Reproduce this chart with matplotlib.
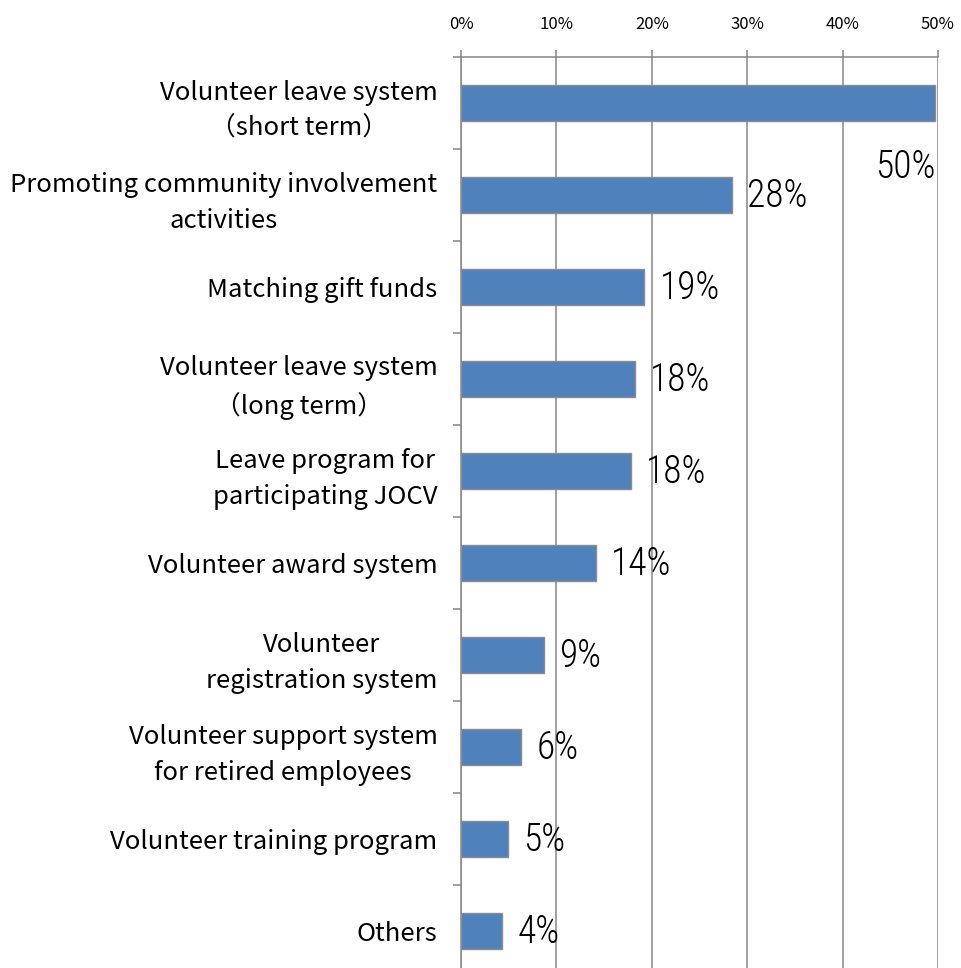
import matplotlib
matplotlib.use("Agg")
import matplotlib.pyplot as plt

# Company volunteer-support programmes (share of respondents, %)
categories = [
    "Volunteer leave system\n（short term）",
    "Promoting community involvement\nactivities",
    "Matching gift funds",
    "Volunteer leave system\n（long term）",
    "Leave program for\nparticipating JOCV",
    "Volunteer award system",
    "Volunteer\nregistration system",
    "Volunteer support system\nfor retired employees",
    "Volunteer training program",
    "Others",
]
shares = [49.7, 28.4, 19.2, 18.2, 17.8, 14.1, 8.7, 6.3, 4.9, 4.3]
x_ticks = [0, 10, 20, 30, 40, 50]
x_tick_labels = ["0%", "10%", "20%", "30%", "40%", "50%"]

LABEL_FONT = ["Noto Sans CJK JP", "DejaVu Sans"]
VALUE_FONT = ["Roboto Condensed", "Noto Sans CJK JP", "DejaVu Sans"]
GRID = "#868686"
BAR = "#4F81BD"

W, H = 962, 968
fig = plt.figure(figsize=(W / 100, H / 100), dpi=100)
left, right, top, bottom = 461, 938, 57, 977
ax = fig.add_axes([left / W, (H - bottom) / H, (right - left) / W, (bottom - top) / H])

y = list(range(len(categories)))
ax.barh(y, shares, height=0.40, color=BAR, edgecolor="#8C8C8C", linewidth=1.0, zorder=3)

ax.set_xlim(0, 50)
ax.set_ylim(len(categories) - 0.5, -0.5)

# x axis along the top
ax.xaxis.tick_top()
ax.set_xticks(x_ticks)
ax.set_xticklabels(x_tick_labels, family=LABEL_FONT, fontsize=12)
ax.tick_params(axis="x", which="major", length=5, width=1.1, color=GRID, pad=12)
ax.grid(axis="x", color=GRID, linewidth=1.1, zorder=1)

# categories as labels, boundaries as ticks
ax.set_yticks(y)
ax.set_yticklabels(categories, family=LABEL_FONT, fontsize=18.5, linespacing=1.5)
for t in ax.get_yticklabels():
    t.set_multialignment("center")
ax.tick_params(axis="y", which="major", length=0, pad=17)
ax.set_yticks([i - 0.5 for i in range(len(categories) + 1)], minor=True)
ax.tick_params(axis="y", which="minor", length=6, width=1.1, color=GRID)

for side in ("right", "bottom"):
    ax.spines[side].set_visible(False)
for side in ("left", "top"):
    ax.spines[side].set_color(GRID)
    ax.spines[side].set_linewidth(1.1)

# value labels
for i, v in enumerate(shares):
    txt = f"{round(v)}%"
    if v > 45:
        ax.annotate(txt, (v, i), xytext=(0, -46), textcoords="offset points",
                    ha="right", va="center", fontsize=27, family=VALUE_FONT,
                    fontstretch="condensed", fontweight="light", zorder=4)
    else:
        ax.annotate(txt, (v, i), xytext=(11, -1), textcoords="offset points",
                    ha="left", va="center", fontsize=27, family=VALUE_FONT,
                    fontstretch="condensed", fontweight="light", zorder=4)

fig.savefig("out.png", dpi=100)
